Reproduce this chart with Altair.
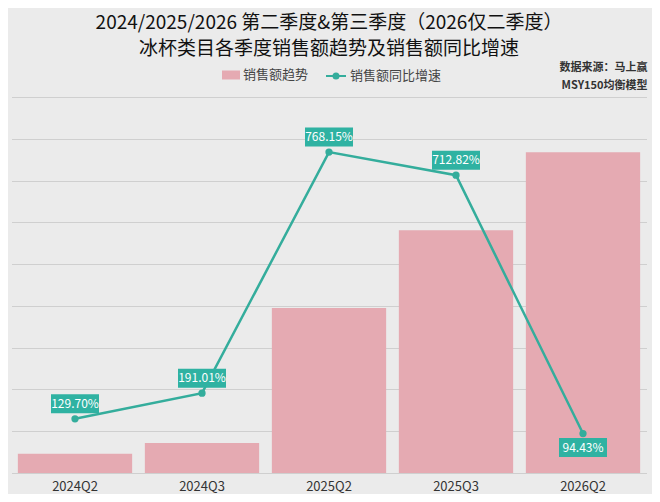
import altair as alt
import pandas as pd

quarters = ["2024Q2", "2024Q3", "2025Q2", "2025Q3", "2026Q2"]
sales = [0.46, 0.72, 3.95, 5.81, 7.68]
growth = [129.70, 191.01, 768.15, 712.82, 94.43]
title_lines = ["2024/2025/2026 第二季度&第三季度（2026仅二季度）",
               "冰杯类目各季度销售额趋势及销售额同比增速"]
series_names = ["销售额趋势", "销售额同比增速"]
source_lines = ["数据来源：马上赢", "MSY150均衡模型"]

df = pd.DataFrame({"quarter": quarters, "sales": sales, "growth": growth})
src = pd.DataFrame({"t": source_lines, "row": [0, 1]})

FONT = "Noto Sans CJK SC"
PINK = "#e5aab2"
TEAL = "#34ad9c"
BOX = "#2fb2a2"

x = alt.X("quarter:N", sort=quarters, title=None,
          scale=alt.Scale(paddingInner=0.1, paddingOuter=0.05),
          axis=alt.Axis(labelAngle=0, ticks=False, domain=False, labelFontSize=13,
                        labelColor="#333", labelFont=FONT, labelPadding=7, grid=False))

gscale = alt.Scale(domain=[0, 900], nice=False)
base = alt.Chart(df)

bars = base.transform_calculate(series=f"'{series_names[0]}'").mark_bar().encode(
    x=x,
    y=alt.Y("sales:Q", scale=alt.Scale(domain=[0, 9], nice=False),
            axis=alt.Axis(title=None, labels=False, ticks=False, domain=False,
                          tickCount=9, grid=True, gridColor="#cfcfcf", gridWidth=1)),
    fill=alt.Fill("series:N", scale=alt.Scale(domain=[series_names[0]], range=[PINK]),
                  legend=alt.Legend(title=None, orient="none", legendX=210.5, legendY=-31,
                                    symbolType="M-1,-0.5H1V0.5H-1Z", symbolSize=324,
                                    symbolStrokeWidth=0, labelFontSize=13, labelFont=FONT,
                                    labelColor="#444", labelOffset=3, padding=0)),
)

line = base.transform_calculate(series=f"'{series_names[1]}'").mark_line(
    strokeWidth=2.5,
    point=alt.OverlayMarkDef(filled=True, size=28, color=TEAL)
).encode(
    x=x,
    y=alt.Y("growth:Q", scale=gscale, axis=None),
    stroke=alt.Stroke("series:N", scale=alt.Scale(domain=[series_names[1]], range=[TEAL]),
                      legend=alt.Legend(title=None, orient="none", legendX=313.5, legendY=-32,
                                        symbolType="M-1,0H1M0.25,0A0.25,0.25,0,1,1,-0.25,0A0.25,0.25,0,1,1,0.25,0Z",
                                        symbolSize=400, symbolStrokeColor=TEAL,
                                        symbolFillColor=TEAL, symbolStrokeWidth=2,
                                        labelFontSize=13, labelFont=FONT,
                                        labelColor="#444", labelOffset=3, padding=0)),
)

BOX_PATH = "M-2.4,-0.95H2.4V0.95H-2.4Z"

def label_layers(filt, off):
    b = base.transform_filter(filt).mark_point(
        shape=BOX_PATH, size=400, filled=True, color=BOX, opacity=1, yOffset=off
    ).encode(x=x, y=alt.Y("growth:Q", scale=gscale, axis=None))
    t = base.transform_filter(filt).transform_calculate(
        lab="format(datum.growth, '.2f') + '%'"
    ).mark_text(color="white", fontSize=12, font=FONT, dy=off, baseline="middle").encode(
        x=x, y=alt.Y("growth:Q", scale=gscale, axis=None), text="lab:N")
    return [b, t]

above = label_layers("datum.quarter != '2026Q2'", -15)
below = label_layers("datum.quarter == '2026Q2'", 14)

def source_text(row, ypix):
    return alt.Chart(src).transform_filter(f"datum.row == {row}").mark_text(
        align="right", baseline="middle", fontSize=11, font=FONT,
        fontWeight="bold", color="#333"
    ).encode(x=alt.value(636), y=alt.value(ypix), text="t:N")

chart = alt.layer(bars, line, *above, *below, source_text(0, -29), source_text(1, -11)).resolve_scale(
    y="independent", fill="independent", stroke="independent"
).properties(
    width=635, height=376,
    autosize=alt.AutoSizeParams(type="none"),
    padding={"left": 3.5, "top": 89, "right": 5.5, "bottom": 21},
    title=alt.TitleParams(text=title_lines, fontSize=19, font=FONT, fontWeight="normal",
                          color="#111", lineHeight=26, anchor="middle", offset=3,
                          frame="group"),
).configure(background="#ebebeb").configure_view(stroke=None)

chart.save("out.html", embed_options={"renderer": "svg", "actions": False})
